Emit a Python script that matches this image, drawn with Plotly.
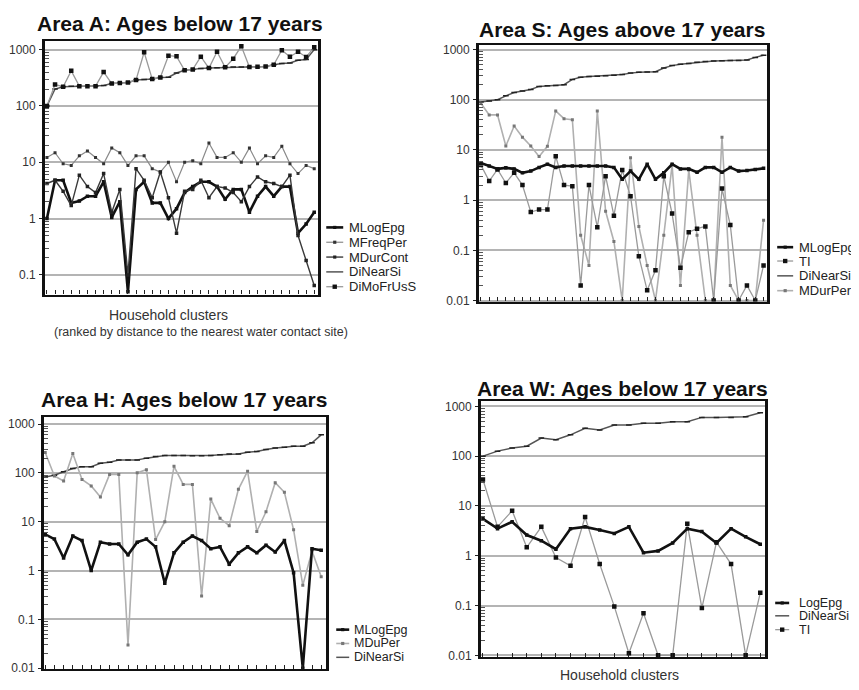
import plotly.graph_objects as go

# ---------------- data ----------------
# Area A: ages below 17 years (34 household clusters)
A_MLogEpg = [1.0, 4.8, 4.8, 1.9, 2.05, 2.5, 2.5, 4.5, 1.05, 2.0, 0.05, 3.3, 4.5, 1.9, 1.9, 1.0, 1.5,
             2.9, 3.7, 4.5, 4.5, 3.7, 2.2, 3.3, 3.3, 1.3, 2.5, 3.7, 2.5, 3.7, 3.7, 0.55, 0.8, 1.3]
A_MFreqPer = [12.2, 14.8, 9.4, 8.8, 13, 15.8, 12.2, 9.4, 18, 14.8, 8.8, 13, 13, 7.7, 6.7, 10, 4.5,
              10, 10.7, 9.4, 22, 12.2, 12.2, 14.8, 10, 18, 9.4, 13, 12.2, 19.3, 9.4, 6.3, 8.8, 7.7]
A_MDurCont = [4.2, 4.8, 3.05, 1.7, 5.9, 3.7, 2.9, 6.3, 1.3, 3.3, 0.1, 7.7, 4.8, 2.35, 6.7, 2.35, 0.55,
              3.05, 3.3, 4.8, 2.35, 3.7, 3.5, 2.9, 2.0, 3.7, 5.5, 4.5, 4.2, 3.7, 5.9, 0.5, 0.18, 0.065]
A_DiNearSi = [100, 200, 220, 225, 225, 225, 225, 230, 250, 255, 260, 290, 295, 300, 320, 325, 385,
              430, 445, 465, 470, 475, 485, 490, 490, 490, 495, 500, 540, 570, 580, 650, 670, 1000]
A_DiMoFrUsS = [100, 240, 220, 420, 225, 225, 225, 400, 250, 255, 260, 290, 900, 300, 320, 780, 760,
               430, 445, 750, 470, 920, 485, 690, 1150, 490, 495, 500, 540, 980, 750, 920, 740, 1100]

# Area S: ages above 17 years (35 household clusters)
S_MLogEpg = [5.5, 4.8, 4.2, 4.4, 4.2, 3.5, 3.8, 4.5, 5.2, 4.5, 4.8, 4.8, 4.8, 4.8, 4.8, 4.8, 4.5, 2.6,
             3.8, 2.6, 5.2, 2.6, 3.5, 5.2, 4.2, 4.2, 3.6, 4.5, 4.5, 3.6, 4.5, 3.8, 3.9, 4.1, 4.3]
S_TI = [5.0, 2.4, 4.1, 2.2, 3.5, 2.0, 0.58, 0.65, 0.65, 7.5, 2.0, 1.9, 0.02, 2.0, 0.29, 3.0, 0.49,
        4.0, 1.2, 0.076, 0.016, 0.04, 3.0, 0.54, 0.045, 0.23, 0.27, 0.3, 0.01, 1.7, 0.32, 0.01, 0.02,
        0.01, 0.05]
S_DiNearSi = [90, 95, 100, 120, 140, 150, 160, 185, 190, 192, 200, 255, 280, 290, 295, 300, 310, 320,
              340, 355, 358, 362, 430, 480, 510, 530, 560, 580, 590, 600, 605, 610, 620, 700, 770]
S_MDurPer = [85, 50, 50, 12, 30, 18, 12, 7.4, 11.8, 60, 42, 40, 0.2, 0.05, 60, 0.6, 0.15, 0.01, 7.0,
             0.3, 0.05, 0.01, 0.2, 5.0, 0.02, 4.0, 0.2, 0.01, 0.01, 18, 0.02, 0.01, 0.01, 0.01, 0.4]

# Area H: ages below 17 years (31 household clusters)
H_MLogEpg = [5.5, 4.4, 1.8, 5.1, 4.1, 1.0, 3.8, 3.5, 3.5, 2.1, 3.8, 4.4, 3.05, 0.55, 2.3, 3.8, 5.1,
             4.1, 2.8, 3.05, 1.35, 2.3, 3.05, 2.3, 3.3, 2.4, 4.1, 0.9, 0.01, 2.8, 2.6]
H_MDuPer = [260, 86, 68, 250, 73, 54, 32, 93, 93, 0.03, 100, 116, 4.3, 10, 136, 58, 58, 0.3, 29,
            11.7, 8.3, 46, 108, 6.3, 16, 63, 40, 6.8, 0.5, 2.5, 0.75]
H_DiNearSi = [82, 89, 105, 123, 134, 134, 157, 165, 184, 184, 184, 200, 216, 227, 227, 227, 225, 225,
              227, 235, 242, 242, 263, 275, 300, 324, 334, 350, 350, 412, 600]

# Area W: ages below 17 years (20 household clusters)
W_LogEpg = [5.5, 3.5, 4.8, 2.6, 2.0, 1.35, 3.5, 3.8, 3.3, 2.8, 3.8, 1.15, 1.25, 1.8, 3.5, 3.05, 1.8,
            3.5, 2.4, 1.7]
W_DiNearSi = [100, 126, 146, 158, 230, 213, 268, 362, 336, 420, 420, 455, 455, 490, 490, 600, 600,
              600, 615, 740]
W_TI = [34, 3.8, 8.0, 1.48, 3.8, 0.92, 0.63, 6.0, 0.68, 0.096, 0.011, 0.07, 0.01, 0.01, 4.4, 0.089,
        1.87, 0.68, 0.01, 0.18]

TICKS_A = ["0.1", "1", "10", "100", "1000"]
TICKS_ALL = ["0.01", "0.1", "1", "10", "100", "1000"]

# ---------------- styling ----------------
# the page body keeps an 8px margin, so the figure is drawn 8px smaller and shifted
OFF = 8
FIG_W, FIG_H = 859 - OFF, 690 - OFF
FONT = "Liberation Sans, Arial, sans-serif"


def fx(p):
    return (p - OFF) / FIG_W


def fy(p):
    return 1 - (p - OFF) / FIG_H


STY = {
    "thick": dict(line=dict(color="#111", width=2.6), marker=dict(symbol="square", size=3.5, color="#111")),
    "grayline": dict(line=dict(color="#8a8a8a", width=1.2), marker=dict(symbol="square", size=3, color="#333")),
    "dark": dict(line=dict(color="#3a3a3a", width=1.4), marker=dict(symbol="square", size=3.5, color="#222")),
    "near": dict(line=dict(color="#555", width=1.5), marker=dict(symbol="line-ew", size=4, color="#222",
                                                               line=dict(width=1.5, color="#222"))),
    "graymk": dict(line=dict(color="#9a9a9a", width=1.3), marker=dict(symbol="square", size=4.5, color="#111")),
    "lightgray": dict(line=dict(color="#b0b0b0", width=1.6), marker=dict(symbol="square", size=3, color="#777")),
}

panels = [
    dict(ax="", box=(43, 317, 39, 296), xr=[-0.25, 33.5], yr=[-1.35, 3.16], ticks=TICKS_A,
         series=[("MLogEpg", A_MLogEpg, "thick"), ("MFreqPer", A_MFreqPer, "grayline"),
                 ("MDurCont", A_MDurCont, "dark"), ("DiNearSi", A_DiNearSi, "near"),
                 ("DiMoFrUsS", A_DiMoFrUsS, "graymk")],
         title="Area A: Ages below 17 years", tpos=(178, 22),
         leg=dict(lx=(325, 342), tx=346, ys=[228, 243, 258, 273, 288], fs=13),
         legorder=["MLogEpg", "MFreqPer", "MDurCont", "DiNearSi", "DiMoFrUsS"]),
    dict(ax="2", box=(478, 767, 43, 303), xr=[-0.24, 34.44], yr=[-2.02, 3.1], ticks=TICKS_ALL,
         series=[("DiNearSi", S_DiNearSi, "near"), ("MDurPer", S_MDurPer, "lightgray"),
                 ("TI", S_TI, "graymk"), ("MLogEpg", S_MLogEpg, "thick")],
         title="Area S: Ages above 17 years", tpos=(621, 28),
         leg=dict(lx=(777, 793), tx=797, ys=[248, 262, 277, 292], fs=13),
         legorder=["MLogEpg", "TI", "DiNearSi", "MDurPer"]),
    dict(ax="3", box=(42, 325, 420, 675), xr=[-0.14, 30.55], yr=[-2.02, 3.14], ticks=TICKS_ALL,
         series=[("DiNearSi", H_DiNearSi, "near"), ("MDuPer", H_MDuPer, "lightgray"),
                 ("MLogEpg", H_MLogEpg, "thick")],
         title="Area H: Ages below 17 years", tpos=(182, 402),
         leg=dict(lx=(335, 348), tx=351, ys=[635, 649, 663], fs=12.5),
         legorder=["MLogEpg", "MDuPer", "DiNearSi"]),
    dict(ax="4", box=(480, 765, 404, 663), xr=[-0.14, 19.34], yr=[-2.04, 3.1], ticks=TICKS_ALL,
         series=[("DiNearSi", W_DiNearSi, "near"), ("TI", W_TI, "graymk"),
                 ("LogEpg", W_LogEpg, "thick")],
         title="Area W: Ages below 17 years", tpos=(622, 391),
         leg=dict(lx=(775, 789), tx=797, ys=[608, 621, 635], fs=12.5),
         legorder=["LogEpg", "DiNearSi", "TI"]),
]

fig = go.Figure()
shapes, annotations = [], []
layout = {}

for p in panels:
    ax = p["ax"]
    x0, x1, y0, y1 = p["box"]
    n = len(p["series"][0][1])
    xs = list(range(n))
    for name, vals, sty in p["series"]:
        s = STY[sty]
        fig.add_trace(go.Scatter(x=xs, y=vals, name=name, mode="lines+markers",
                                 line=s["line"], marker=s["marker"],
                                 xaxis="x" + ax, yaxis="y" + ax, showlegend=False,
                                 cliponaxis=True))
    tickvals = [float(t) for t in p["ticks"]]
    minor_vals = [m * t for t in tickvals for m in range(2, 10) if m * t < 1500]
    layout["xaxis" + ax] = dict(domain=[fx(x0), fx(x1)], range=p["xr"], anchor="y" + ax,
                                showgrid=False, zeroline=False, showline=True, mirror=True,
                                linecolor="#111", linewidth=2.4, tickmode="array", tickvals=xs,
                                ticks="inside", ticklen=4, tickwidth=1.3, tickcolor="#222",
                                showticklabels=False)
    layout["yaxis" + ax] = dict(domain=[fy(y1), fy(y0)], type="log", range=p["yr"],
                                anchor="x" + ax, tickmode="array", tickvals=tickvals,
                                ticktext=p["ticks"], showgrid=True, gridcolor="#b4b4b4",
                                gridwidth=1.6, zeroline=False, showline=True, mirror=True,
                                linecolor="#111", linewidth=2.6, ticks="outside", ticklen=3,
                                tickcolor="#222", ticklabelstandoff=1,
                                tickfont=dict(family=FONT, size=12, color="#333"),
                                minor=dict(tickmode="array", tickvals=minor_vals, ticks="inside",
                                           ticklen=4.5, tickwidth=1.2, tickcolor="#555",
                                           showgrid=False))
    annotations.append(dict(text="<b>" + p["title"] + "</b>", x=fx(p["tpos"][0]), y=fy(p["tpos"][1]),
                            xref="paper", yref="paper", xanchor="center", yanchor="middle",
                            showarrow=False, font=dict(family=FONT, size=21, color="#111")))
    # compact legend drawn beside each panel
    lg = p["leg"]
    styles = {nm: STY[st] for nm, _, st in p["series"]}
    for label, yy in zip(p["legorder"], lg["ys"]):
        s = styles[label]
        shapes.append(dict(type="line", xref="paper", yref="paper", x0=fx(lg["lx"][0]), x1=fx(lg["lx"][1]),
                           y0=fy(yy), y1=fy(yy), line=dict(color=s["line"]["color"], width=s["line"]["width"])))
        mx = (lg["lx"][0] + lg["lx"][1]) / 2
        ms = 2.2 if s["marker"]["size"] >= 4 else 1.6
        if s["marker"]["symbol"] == "square":
            shapes.append(dict(type="rect", xref="paper", yref="paper", x0=fx(mx - ms), x1=fx(mx + ms),
                               y0=fy(yy + ms), y1=fy(yy - ms), fillcolor=s["marker"]["color"],
                               line=dict(width=0)))
        annotations.append(dict(text=label, x=fx(lg["tx"]), y=fy(yy), xref="paper", yref="paper",
                                xanchor="left", yanchor="middle", showarrow=False,
                                font=dict(family=FONT, size=lg["fs"], color="#222")))

annotations += [
    dict(text="Household clusters", x=fx(167), y=fy(317), xref="paper", yref="paper",
         xanchor="center", yanchor="middle", showarrow=False, font=dict(family=FONT, size=14, color="#333")),
    dict(text="(ranked by distance to the nearest water contact site)", x=fx(199), y=fy(334),
         xref="paper", yref="paper", xanchor="center", yanchor="middle", showarrow=False,
         font=dict(family=FONT, size=12.5, color="#333")),
    dict(text="Household clusters", x=fx(619), y=fy(681), xref="paper", yref="paper",
         xanchor="center", yanchor="middle", showarrow=False, font=dict(family=FONT, size=14, color="#333")),
]

fig.update_layout(width=FIG_W, height=FIG_H, margin=dict(l=0, r=0, t=0, b=0),
                  paper_bgcolor="white", plot_bgcolor="white", showlegend=False,
                  shapes=shapes, annotations=annotations, **layout)

fig.write_html("out.html")
